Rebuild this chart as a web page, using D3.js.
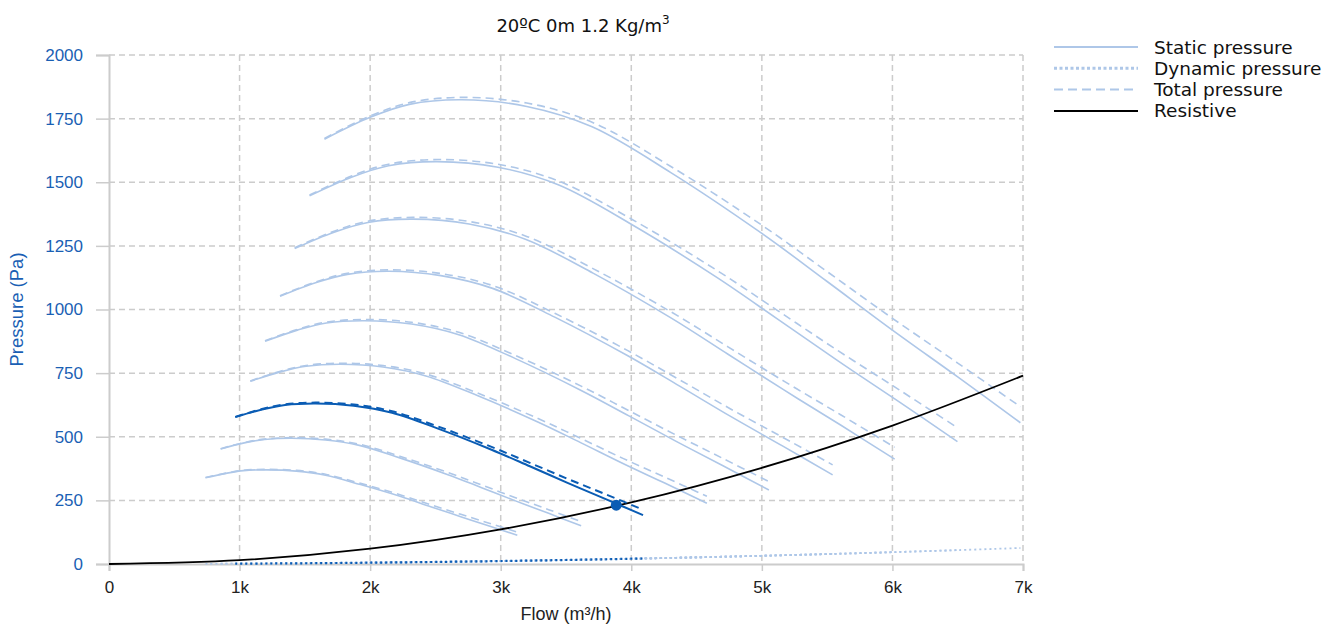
<!DOCTYPE html>
<html>
<head>
<meta charset="utf-8">
<script src="https://cdn.jsdelivr.net/npm/d3@7"></script>
<style>
  body { margin: 0; background: #fff; }
  .tick text { font-family: "Liberation Sans", Arial, sans-serif; }
</style>
</head>
<body>
<svg width="1334" height="626"></svg>
<script>
// fan curves, one row per speed (flow in m3/h, pressure in Pa)
const curveFlows = [
  [739, 896, 1030, 1210, 1434, 1658, 1926, 2240, 2464, 2688, 2912, 3127],
  [855, 1036, 1191, 1399, 1658, 1917, 2227, 2590, 2849, 3108, 3367, 3616],
  [967, 1172, 1348, 1582, 1875, 2168, 2520, 2930, 3223, 3516, 3809, 4090],
  [1082, 1312, 1509, 1771, 2099, 2427, 2821, 3280, 3608, 3936, 4264, 4579],
  [1195, 1448, 1665, 1955, 2317, 2679, 3113, 3620, 3982, 4344, 4706, 5054],
  [1310, 1588, 1826, 2144, 2541, 2938, 3414, 3970, 4367, 4764, 5161, 5542],
  [1422, 1724, 1983, 2327, 2758, 3189, 3707, 4310, 4741, 5172, 5603, 6017],
  [1536, 1862, 2141, 2514, 2979, 3445, 4003, 4655, 5121, 5586, 6052, 6498],
  [1650, 2000, 2300, 2700, 3200, 3700, 4300, 5000, 5500, 6000, 6500, 6980]
];
const curveStatic = [
  [339, 356, 367, 370, 365, 349, 312, 264, 225, 187, 149, 113],
  [452, 476, 489, 494, 487, 466, 417, 352, 301, 249, 199, 150],
  [577, 607, 625, 631, 622, 594, 532, 449, 384, 318, 254, 192],
  [718, 755, 777, 785, 774, 739, 662, 559, 478, 395, 316, 239],
  [875, 920, 947, 956, 943, 901, 807, 681, 582, 482, 385, 291],
  [1052, 1106, 1138, 1150, 1133, 1083, 970, 819, 700, 579, 463, 350],
  [1240, 1304, 1342, 1355, 1336, 1276, 1143, 965, 824, 683, 546, 412],
  [1447, 1521, 1565, 1581, 1559, 1489, 1334, 1126, 962, 797, 637, 481],
  [1669, 1755, 1806, 1824, 1798, 1718, 1539, 1299, 1110, 919, 735, 555]
];
const curveDynamic = [
  [0.7, 1.0, 1.4, 1.9, 2.7, 3.5, 4.8, 6.5, 7.8, 9.3, 10.9, 12.6],
  [0.9, 1.4, 1.8, 2.5, 3.5, 4.7, 6.4, 8.7, 10.5, 12.5, 14.6, 16.9],
  [1.2, 1.8, 2.3, 3.2, 4.5, 6.1, 8.2, 11.1, 13.4, 15.9, 18.7, 21.6],
  [1.5, 2.2, 2.9, 4.0, 5.7, 7.6, 10.3, 13.9, 16.8, 20.0, 23.5, 27.0],
  [1.8, 2.7, 3.6, 4.9, 6.9, 9.3, 12.5, 16.9, 20.5, 24.3, 28.6, 33.0],
  [2.2, 3.3, 4.3, 5.9, 8.3, 11.1, 15.0, 20.3, 24.6, 29.3, 34.4, 39.6],
  [2.6, 3.8, 5.1, 7.0, 9.8, 13.1, 17.7, 24.0, 29.0, 34.5, 40.5, 46.7],
  [3.0, 4.5, 5.9, 8.2, 11.5, 15.3, 20.7, 28.0, 33.8, 40.3, 47.3, 54.5],
  [3.5, 5.2, 6.8, 9.4, 13.2, 17.7, 23.9, 32.3, 39.0, 46.4, 54.5, 62.9]
];
const selectedCurve = 2;

const resistiveFlow = [0, 1000, 2000, 3000, 4000, 5000, 6000, 7000];
const resistivePressure = [0, 15, 60, 136, 242, 378, 544, 740];

const operatingPoint = { flow: 3885, pressure: 231 };

const xTicks = [0, 1000, 2000, 3000, 4000, 5000, 6000, 7000];
const xTickLabels = ["0", "1k", "2k", "3k", "4k", "5k", "6k", "7k"];
const yTicks = [0, 250, 500, 750, 1000, 1250, 1500, 1750, 2000];

const legendLabels = ["Static pressure", "Dynamic pressure", "Total pressure", "Resistive"];

const light = "#aec7e8";
const dark = "#0a5cb4";
const axisBlue = "#1a5fb4";

let svg = d3.select("svg");
let margin = { left: 109, right: 311, top: 55, bottom: 62 };
let width = +svg.attr("width") - margin.left - margin.right;
let height = +svg.attr("height") - margin.top - margin.bottom;

let g = svg.append("g")
  .attr("transform", "translate(" + margin.left + "," + margin.top + ")");

let x = d3.scaleLinear().domain([0, 7000]).range([0, width]);
let y = d3.scaleLinear().domain([0, 2000]).range([height, 0]);

// grid
g.append("g")
  .selectAll("line")
  .data(xTicks.slice(1))
  .enter()
  .append("line")
  .attr("x1", d => x(d)).attr("x2", d => x(d))
  .attr("y1", 0).attr("y2", height)
  .attr("stroke", "#cccccc").attr("stroke-width", 1.5)
  .attr("stroke-dasharray", "6,4");

g.append("g")
  .selectAll("line")
  .data(yTicks.slice(1))
  .enter()
  .append("line")
  .attr("x1", 0).attr("x2", width)
  .attr("y1", d => y(d)).attr("y2", d => y(d))
  .attr("stroke", "#cccccc").attr("stroke-width", 1.5)
  .attr("stroke-dasharray", "6,4");

// axes
let xAxis = g.append("g")
  .attr("transform", "translate(0," + height + ")")
  .call(d3.axisBottom(x).tickValues(xTicks).tickSize(7).tickPadding(10)
    .tickFormat((d, i) => xTickLabels[i]));
xAxis.select(".domain").attr("stroke", "#cccccc").attr("stroke-width", 2);
xAxis.selectAll(".tick line").attr("stroke", "#cccccc").attr("stroke-width", 1.5);
xAxis.selectAll(".tick text").attr("font-size", "17px").attr("fill", "#222");

let yAxis = g.append("g")
  .call(d3.axisLeft(y).tickValues(yTicks).tickSize(13).tickPadding(13)
    .tickFormat(d3.format("d")));
yAxis.select(".domain").attr("stroke", "#cccccc").attr("stroke-width", 2);
yAxis.selectAll(".tick line").attr("stroke", "#cccccc").attr("stroke-width", 1.5);
yAxis.selectAll(".tick text").attr("font-size", "17px").attr("fill", axisBlue);

svg.append("text")
  .attr("x", margin.left + width / 2)
  .attr("y", 620)
  .attr("text-anchor", "middle")
  .attr("font-family", "Liberation Sans, Arial, sans-serif")
  .attr("font-size", "18px")
  .attr("fill", "#222")
  .text("Flow (m³/h)");

svg.append("text")
  .attr("transform", "translate(23," + (margin.top + height / 2) + ") rotate(-90)")
  .attr("text-anchor", "middle")
  .attr("font-family", "Liberation Sans, Arial, sans-serif")
  .attr("font-size", "18.5px")
  .attr("fill", axisBlue)
  .text("Pressure (Pa)");

// title
let title = svg.append("text")
  .attr("x", 583)
  .attr("y", 32)
  .attr("text-anchor", "middle")
  .attr("font-family", "DejaVu Sans, sans-serif")
  .attr("font-size", "18px")
  .attr("fill", "#111");
title.append("tspan").text("20ºC 0m 1.2 Kg/m");
title.append("tspan").attr("dy", -8).attr("font-size", "12px").text("3");

// curves
let line = d3.line()
  .x(d => x(d[0]))
  .y(d => y(d[1]))
  .curve(d3.curveCatmullRom.alpha(0.5));

let styles = [
  { key: "dyn", dash: "2,3", w: 1.8 },
  { key: "static", dash: null, w: 1.6 },
  { key: "total", dash: "8,5", w: 1.6 }
];

function drawCurve(i, color, extra) {
  let pts = {
    static: curveFlows[i].map((f, j) => [f, curveStatic[i][j]]),
    dyn: curveFlows[i].map((f, j) => [f, curveDynamic[i][j]]),
    total: curveFlows[i].map((f, j) => [f, curveStatic[i][j] + curveDynamic[i][j]])
  };
  styles.forEach(function(s) {
    g.append("path")
      .datum(pts[s.key])
      .attr("d", line)
      .attr("fill", "none")
      .attr("stroke", color)
      .attr("stroke-width", s.w + extra)
      .attr("stroke-dasharray", s.dash);
  });
}

curveFlows.forEach(function(f, i) {
  if (i !== selectedCurve) drawCurve(i, light, 0);
});

// resistive curve
g.append("path")
  .datum(resistiveFlow.map((f, i) => [f, resistivePressure[i]]))
  .attr("d", line)
  .attr("fill", "none")
  .attr("stroke", "#000")
  .attr("stroke-width", 1.8);

drawCurve(selectedCurve, dark, 0.4);

g.append("circle")
  .attr("cx", x(operatingPoint.flow))
  .attr("cy", y(operatingPoint.pressure))
  .attr("r", 5.5)
  .attr("fill", dark);

// legend
let legend = svg.append("g").attr("transform", "translate(1054,47)");
let legendStyles = [
  { color: light, dash: null, w: 2 },
  { color: light, dash: "3,2.5", w: 3 },
  { color: light, dash: "9,5", w: 2 },
  { color: "#000", dash: null, w: 2 }
];
legendLabels.forEach(function(label, i) {
  let row = legend.append("g").attr("transform", "translate(0," + i * 21.3 + ")");
  row.append("line")
    .attr("x1", 0).attr("x2", 84)
    .attr("stroke", legendStyles[i].color)
    .attr("stroke-width", legendStyles[i].w)
    .attr("stroke-dasharray", legendStyles[i].dash);
  row.append("text")
    .attr("x", 100)
    .attr("y", 6.5)
    .attr("font-family", "DejaVu Sans, sans-serif")
    .attr("font-size", "18.5px")
    .attr("fill", "#111")
    .text(label);
});
</script>
</body>
</html>
